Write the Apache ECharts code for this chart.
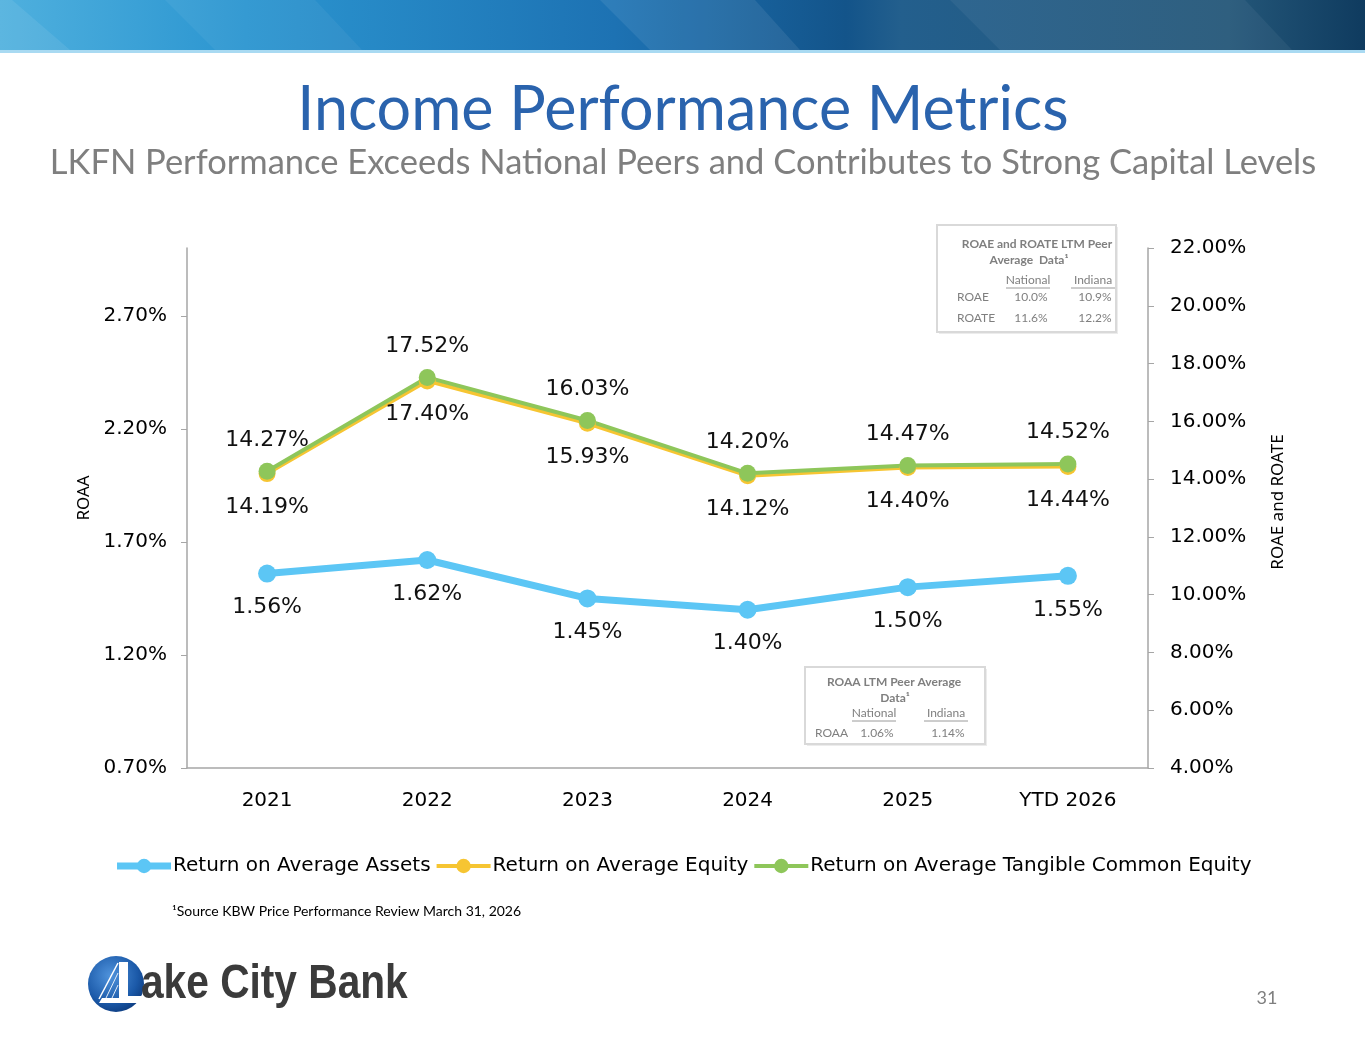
<!DOCTYPE html>
<html>
<head>
    <meta charset="utf-8"/>
    <title>Income Performance Metrics</title>
    <style>
        html, body { margin: 0; padding: 0; background: #fff; }
        #slide { width: 1365px; height: 1047px; }
    </style>
</head>
<body>
<div id="slide"></div>
<script src="https://cdn.jsdelivr.net/npm/echarts@6/dist/echarts.min.js"></script>
<script type="text/javascript">
    // chart data
    var years = ['2021', '2022', '2023', '2024', '2025', 'YTD 2026'];
    var roaa = [1.56, 1.62, 1.45, 1.40, 1.50, 1.55];
    var roae = [14.19, 17.40, 15.93, 14.12, 14.40, 14.44];
    var roate = [14.27, 17.52, 16.03, 14.20, 14.47, 14.52];
    var seriesNames = ['Return on Average Assets', 'Return on Average Equity', 'Return on Average Tangible Common Equity'];

    // axis ranges (left = ROAA, right = ROAE / ROATE)
    var leftMin = 0.7, leftMax = 3.0, leftStep = 0.5;
    var rightMin = 4, rightMax = 22, rightStep = 2;

    // peer tables
    var peerHeader = ['National', 'Indiana'];
    var peerEquityRows = [['ROAE', '10.0%', '10.9%'], ['ROATE', '11.6%', '12.2%']];
    var peerAssetRows = [['ROAA', '1.06%', '1.14%']];

    var chartFont = 'DejaVu Sans';

    function pct(v) {
        return v.toFixed(2) + '%';
    }

    // ---- decorations drawn with graphic ----
    var bannerStripes = [
        [[0, 0], [12, 0], [70, 50], [0, 50]],
        [[165, 0], [315, 0], [362, 50], [215, 50]],
        [[600, 0], [755, 0], [800, 50], [650, 50]],
        [[950, 0], [1245, 0], [1292, 50], [1000, 50]]
    ];
    var graphics = [
        {
            type: 'rect', shape: {x: 0, y: 0, width: 1365, height: 50},
            style: {
                fill: new echarts.graphic.LinearGradient(0, 0, 1, 0, [
                    {offset: 0, color: '#4fb0de'},
                    {offset: 0.18, color: '#2b95d0'},
                    {offset: 0.45, color: '#1d72b3'},
                    {offset: 0.62, color: '#13548a'},
                    {offset: 0.66, color: '#235f8d'},
                    {offset: 0.9, color: '#245779'},
                    {offset: 1, color: '#0f3b5f'}
                ])
            }
        },
        {type: 'rect', shape: {x: 0, y: 50, width: 1365, height: 3}, style: {fill: '#a9daf2'}}
    ];
    bannerStripes.forEach(function (pts, i) {
        graphics.push({
            type: 'polygon', shape: {points: pts},
            style: {fill: i % 2 ? 'rgba(255,255,255,0.05)' : 'rgba(255,255,255,0.08)'}
        });
    });

    graphics.push(
        {
            type: 'text', x: 683, y: 110,
            style: {text: 'Income Performance Metrics', fill: '#2a63ad', font: '61px Lato', align: 'center', verticalAlign: 'middle'}
        },
        {
            type: 'text', x: 683, y: 163,
            style: {text: 'LKFN Performance Exceeds National Peers and Contributes to Strong Capital Levels', fill: '#7f7f7f', font: '34.5px Lato', align: 'center', verticalAlign: 'middle'}
        }
    );

    // peer table boxes
    function peerTable(box, titleLines, titleY, headY, colX, rowY, rows, labelX) {
        graphics.push({
            type: 'rect', shape: {x: box[0] + 2, y: box[1] + 2, width: box[2], height: box[3]},
            style: {fill: '#ececec'}
        });
        graphics.push({
            type: 'rect', shape: {x: box[0], y: box[1], width: box[2], height: box[3]},
            style: {fill: '#fff', stroke: '#d9d9d9', lineWidth: 2}
        });
        titleLines.forEach(function (t, i) {
            graphics.push({
                type: 'text', x: t[1], y: titleY + i * 16,
                style: {text: t[0], fill: '#7f7f7f', font: 'bold 12px Lato', align: 'center', verticalAlign: 'middle'}
            });
        });
        peerHeader.forEach(function (t, i) {
            graphics.push({
                type: 'text', x: colX[i], y: headY,
                style: {text: t, fill: '#7f7f7f', font: '12px Lato', align: 'center', verticalAlign: 'middle'}
            });
            graphics.push({
                type: 'line', shape: {x1: colX[i] - 22, y1: headY + 8, x2: colX[i] + 22, y2: headY + 8},
                style: {stroke: '#9a9a9a', lineWidth: 1}
            });
        });
        rows.forEach(function (r, i) {
            graphics.push({
                type: 'text', x: labelX, y: rowY + i * 21,
                style: {text: r[0], fill: '#7f7f7f', font: '12px Lato', align: 'left', verticalAlign: 'middle'}
            });
            for (var k = 1; k < 3; k++) {
                graphics.push({
                    type: 'text', x: colX[k - 1] + (k === 2 ? 2 : 3), y: rowY + i * 21,
                    style: {text: r[k], fill: '#7f7f7f', font: '12px Lato', align: 'center', verticalAlign: 'middle'}
                });
            }
        });
    }
    peerTable([937, 225, 179, 107], [['ROAE and ROATE LTM Peer', 1037], ['Average  Data\u00b9', 1029]], 244, 280, [1028, 1093], 297, peerEquityRows, 957);
    peerTable([805, 667, 180, 77], [['ROAA LTM Peer Average', 894], ['Data\u00b9', 895]], 682, 713, [874, 946], 733, peerAssetRows, 815);

    // footnote, page number
    graphics.push(
        {
            type: 'text', x: 172, y: 911,
            style: {text: '\u00b9Source KBW Price Performance Review March 31, 2026', fill: '#000', font: '14px Lato', align: 'left', verticalAlign: 'middle'}
        },
        {
            type: 'text', x: 1267, y: 998,
            style: {text: '31', fill: '#7f7f7f', font: '18px Lato', align: 'center', verticalAlign: 'middle'}
        }
    );

    // Lake City Bank logo
    graphics.push(
        {
            type: 'circle', shape: {cx: 116, cy: 984, r: 28},
            style: {
                fill: new echarts.graphic.RadialGradient(0.4, 0.35, 0.75, [
                    {offset: 0, color: '#4f93dc'},
                    {offset: 0.65, color: '#1b59a8'},
                    {offset: 1, color: '#0a3576'}
                ])
            }
        },
        {
            type: 'polygon', shape: {points: [[119, 962], [128, 962], [128, 996], [145, 996], [143, 1003], [99, 1003], [102, 998], [119, 998]]},
            style: {fill: '#fff'}
        },
        {type: 'line', shape: {x1: 99, y1: 999, x2: 118, y2: 963}, style: {stroke: '#fff', lineWidth: 1.5}},
        {type: 'line', shape: {x1: 106, y1: 998, x2: 118, y2: 973}, style: {stroke: '#e3eef9', lineWidth: 1}},
        {type: 'line', shape: {x1: 112, y1: 998, x2: 118, y2: 985}, style: {stroke: '#e3eef9', lineWidth: 1}},
        {
            type: 'text', x: 141, y: 984, scaleX: 0.83,
            style: {text: 'ake City Bank', fill: '#3b3b3b', font: 'bold 49px "Liberation Sans"', align: 'left', verticalAlign: 'middle'}
        }
    );

    var option = {
        backgroundColor: '#fff',
        animation: false,
        textStyle: {fontFamily: chartFont},
        grid: {left: 187, right: 217, top: 248, bottom: 279},
        legend: {
            top: 851,
            left: 'center',
            itemWidth: 54,
            itemHeight: 18,
            itemGap: 4,
            textStyle: {fontFamily: chartFont, fontSize: 20, color: '#000', padding: [0, 0, 0, -3]},
            data: [
                {name: seriesNames[0], lineStyle: {width: 7}},
                {name: seriesNames[1], lineStyle: {width: 4}},
                {name: seriesNames[2], lineStyle: {width: 4}}
            ]
        },
        xAxis: [{
            type: 'category',
            data: years,
            boundaryGap: true,
            axisLine: {lineStyle: {color: '#a6a6a6', width: 1.5}},
            axisTick: {length: 8, lineStyle: {color: '#a6a6a6', width: 1.5}},
            axisLabel: {fontSize: 20, color: '#000', margin: 23}
        }],
        yAxis: [{
            type: 'value',
            position: 'left',
            min: leftMin,
            max: leftMax,
            interval: leftStep,
            name: 'ROAA',
            nameLocation: 'middle',
            nameGap: 90,
            nameRotate: 90,
            nameTextStyle: {fontFamily: 'Noto Sans', fontSize: 17, color: '#000', padding: [0, 0, 0, 20]},
            axisLine: {show: true, lineStyle: {color: '#a6a6a6', width: 1.5}},
            axisTick: {show: true, length: 6, lineStyle: {color: '#a6a6a6'}},
            splitLine: {show: false},
            axisLabel: {fontSize: 20, color: '#000', margin: 20, showMaxLabel: false, formatter: pct}
        }, {
            type: 'value',
            position: 'right',
            min: rightMin,
            max: rightMax,
            interval: rightStep,
            name: 'ROAE and ROATE',
            nameLocation: 'middle',
            nameGap: 122,
            nameRotate: 90,
            nameTextStyle: {fontFamily: 'Noto Sans', fontSize: 17, color: '#000', padding: [0, 0, 0, 12]},
            axisLine: {show: true, lineStyle: {color: '#a6a6a6', width: 1.5}},
            axisTick: {show: true, length: 6, lineStyle: {color: '#a6a6a6'}},
            splitLine: {show: false},
            axisLabel: {fontSize: 20, color: '#000', margin: 22, formatter: pct}
        }],
        series: [{
            name: seriesNames[0],
            type: 'line',
            yAxisIndex: 0,
            data: roaa,
            color: '#5cc6f5',
            symbol: 'circle',
            symbolSize: 18,
            lineStyle: {width: 7},
            label: {show: true, position: 'bottom', distance: 14, fontSize: 22, color: '#111', formatter: function (p) { return pct(p.value); }}
        }, {
            name: seriesNames[1],
            type: 'line',
            yAxisIndex: 1,
            data: roae,
            color: '#f6c532',
            symbol: 'circle',
            symbolSize: 17,
            lineStyle: {width: 4},
            label: {show: true, position: 'bottom', distance: 14, fontSize: 22, color: '#111', formatter: function (p) { return pct(p.value); }}
        }, {
            name: seriesNames[2],
            type: 'line',
            yAxisIndex: 1,
            data: roate,
            color: '#8ec65a',
            symbol: 'circle',
            symbolSize: 17,
            lineStyle: {width: 4},
            label: {show: true, position: 'top', distance: 12, fontSize: 22, color: '#111', formatter: function (p) { return pct(p.value); }}
        }],
        graphic: graphics
    };

    var chart = echarts.init(document.getElementById('slide'));
    chart.setOption(option);
</script>
</body>
</html>
